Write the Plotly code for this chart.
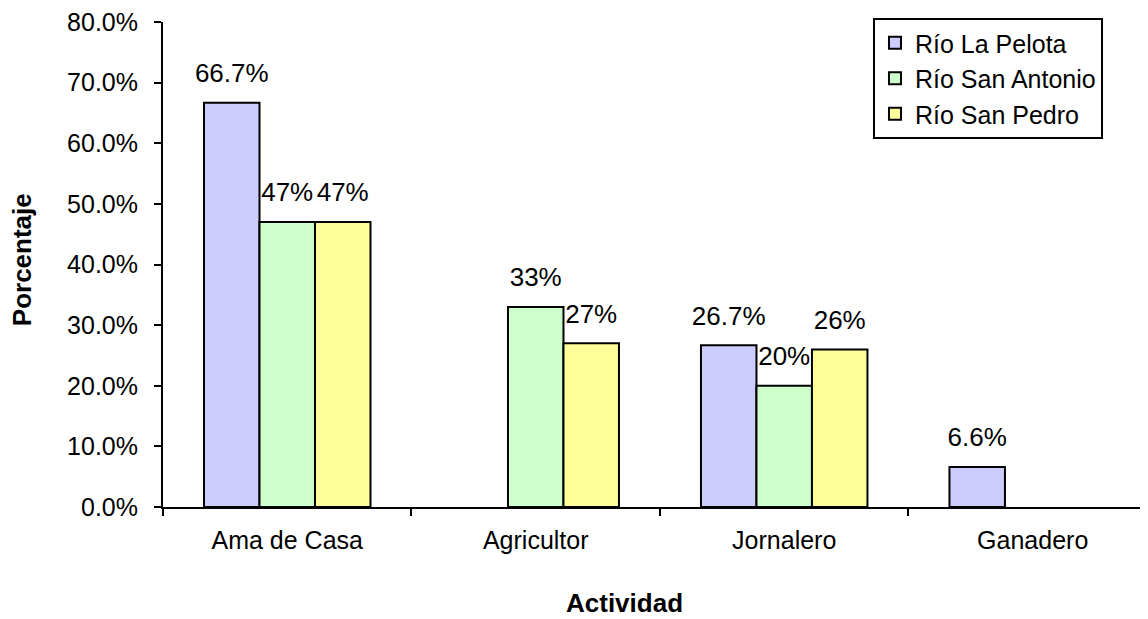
import plotly.graph_objects as go

categories = ["Ama de Casa", "Agricultor", "Jornalero", "Ganadero"]
series_names = ["Río La Pelota", "Río San Antonio", "Río San Pedro"]
la_pelota = [66.7, None, 26.7, 6.6]
san_antonio = [47, 33, 20, None]
san_pedro = [47, 27, 26, None]
la_pelota_labels = ["66.7%", "", "26.7%", "6.6%"]
san_antonio_labels = ["47%", "33%", "20%", ""]
san_pedro_labels = ["47%", "27%", "26%", ""]
y_ticks = [0, 10, 20, 30, 40, 50, 60, 70, 80]
y_tick_labels = ["0.0%", "10.0%", "20.0%", "30.0%", "40.0%", "50.0%", "60.0%", "70.0%", "80.0%"]

colors = ["#CCCCFF", "#CCFFCC", "#FFFF99"]
FONT = "Arial, Liberation Sans, sans-serif"

fig = go.Figure()
series = [
    (series_names[0], la_pelota, la_pelota_labels),
    (series_names[1], san_antonio, san_antonio_labels),
    (series_names[2], san_pedro, san_pedro_labels),
]
for (name, vals, labels), col in zip(series, colors):
    fig.add_trace(go.Bar(
        x=categories, y=vals, name=name,
        marker=dict(color=col, line=dict(color="black", width=2)),
        offsetgroup=name,
    ))

# value labels, dodged like the bars
for (name, vals, labels), col in zip(series, colors):
    fig.add_trace(go.Scatter(
        x=categories, y=vals, text=labels, mode="markers+text",
        textposition="top center",
        textfont=dict(size=26, color="black", family=FONT),
        marker=dict(size=21, opacity=0),
        offsetgroup=name, showlegend=False, hoverinfo="skip",
        cliponaxis=False,
    ))

# the page body has an 8px margin, so the figure is drawn 8px lower/right
fig.update_layout(
    width=1148, height=619,
    margin=dict(l=155, r=8, t=14, b=120, autoexpand=False),
    paper_bgcolor="white", plot_bgcolor="white",
    barmode="group", bargap=0.33, bargroupgap=0,
    scattermode="group", scattergap=0.33,
    font=dict(family=FONT, size=25, color="black"),
    legend=dict(
        x=0.7208, y=1.008, xanchor="left", yanchor="top",
        bgcolor="white", bordercolor="black", borderwidth=2,
        font=dict(size=25, family=FONT, color="black"),
    ),
    xaxis=dict(
        type="category", range=[-0.5, 3.464],
        showline=True, linecolor="black", linewidth=2,
        ticks="outside", tickson="boundaries", ticklen=7, tickwidth=2,
        tickcolor="black", showgrid=False, ticklabelstandoff=10,
        tickfont=dict(size=25, family=FONT),
    ),
    yaxis=dict(
        range=[0, 80], tickvals=y_ticks, ticktext=y_tick_labels,
        showline=True, linecolor="black", linewidth=2,
        ticks="outside", ticklen=7, tickwidth=2, tickcolor="black",
        showgrid=False, zeroline=False, ticklabelstandoff=11,
        ticklabeloverflow="allow",
        tickfont=dict(size=25, family=FONT),
    ),
    annotations=[
        dict(text="<b>Porcentaje</b>", xref="paper", yref="paper",
             x=-0.1431, y=0.509, textangle=-90, showarrow=False,
             xanchor="center", yanchor="middle",
             font=dict(size=26, family=FONT)),
        dict(text="<b>Actividad</b>", xref="paper", yref="paper",
             x=0.4690, y=-0.198, showarrow=False,
             xanchor="center", yanchor="middle",
             font=dict(size=26, family=FONT)),
    ],
)

fig.write_html("out.html")
